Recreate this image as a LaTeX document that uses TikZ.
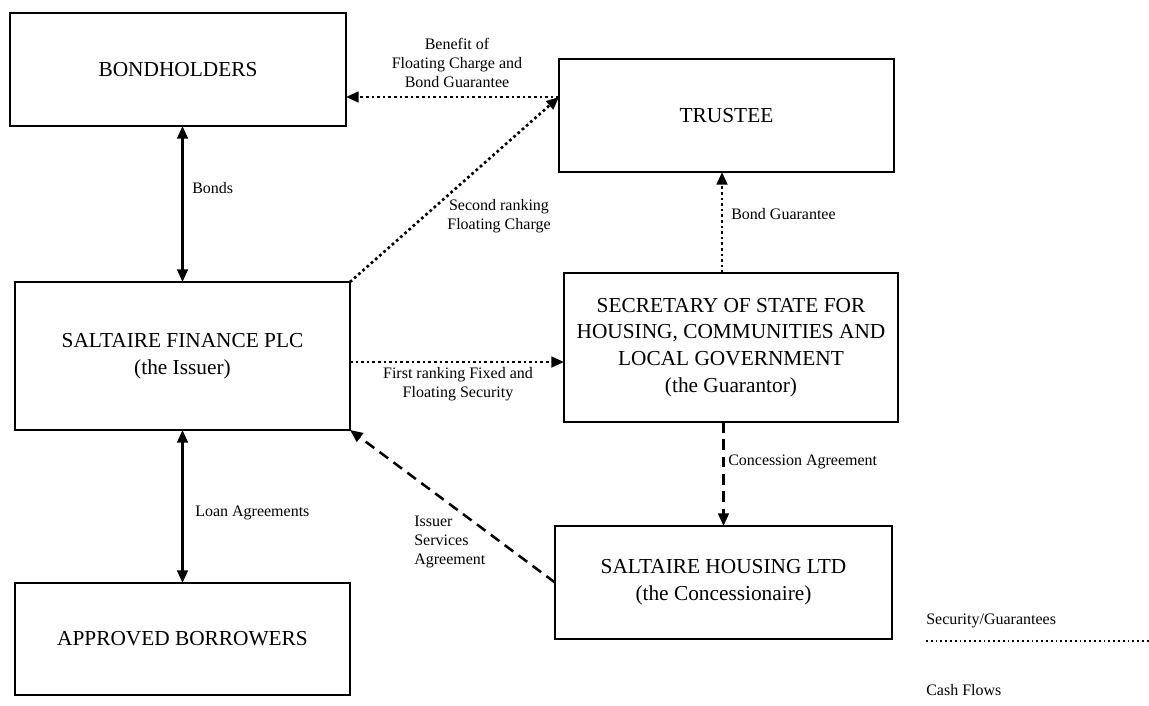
\documentclass[tikz,border=0pt]{standalone}
\usepackage{fontspec}
\setmainfont{Liberation Serif}
\usetikzlibrary{arrows.meta,calc}
\begin{document}
\begin{tikzpicture}[x=0.75pt,y=-0.75pt,
  box/.style={draw, line width=2.1pt, inner sep=0pt, outer sep=0pt, align=center,
    font=\fontsize{16}{20}\selectfont},
  lbl/.style={inner sep=0pt, font=\fontsize{12}{14}\selectfont},
  headend/.style={-{Triangle[length=9.5pt,width=8pt]}},
  headboth/.style={{Triangle[length=9.5pt,width=8pt]}-{Triangle[length=9.5pt,width=8pt]}},
  solidline/.style={line width=1.8pt},
  dotline/.style={line width=2pt, dash pattern=on 2pt off 2.2pt},
  dashline/.style={line width=1.9pt, dash pattern=on 8pt off 5pt},
  legdot/.style={line width=1.4pt, dash pattern=on 1.4pt off 2.2pt}]
\useasboundingbox (0,0) rectangle (1149,706);

% boxes
\node[box, minimum width=252pt, minimum height=84.75pt] (bond) at (178,69.5) {BONDHOLDERS};
\node[box, minimum width=251.25pt, minimum height=84.75pt] (trustee) at (726.5,115.5) {TRUSTEE};
\node[box, minimum width=251.25pt, minimum height=111pt] (fin) at (182.5,356) {SALTAIRE FINANCE PLC\\(the Issuer)};
\node[box, minimum width=250.5pt, minimum height=111.75pt] (sec) at (731,347.5) {SECRETARY OF STATE FOR\\HOUSING, COMMUNITIES AND\\LOCAL GOVERNMENT\\(the Guarantor)};
\node[box, minimum width=252.75pt, minimum height=84.75pt] (hous) at (723.5,582.5) {SALTAIRE HOUSING LTD\\(the Concessionaire)};
\node[box, minimum width=251.25pt, minimum height=84pt] (appr) at (182.5,639) {APPROVED BORROWERS};

% helper coordinates
\coordinate (tw) at ($(trustee.west)+(0,-18.5)$);
\coordinate (fe) at ($(fin.east)+(0,6)$);
\coordinate (bg) at ($(sec.north)+(-9,0)$);

% connectors
\draw[solidline, headboth] (bond.south -| fin.north) -- (fin.north);
\draw[solidline, headboth] (fin.south) -- (appr.north);
\draw[dotline, headend] (tw) -- (tw -| bond.east);
\draw[dotline, headend] (fin.north east) -- (tw);
\draw[dotline, headend] (fe) -- (fe -| sec.west);
\draw[dotline, headend] (bg) -- (bg |- trustee.south);
\draw[dashline, headend] (sec.south -| hous.north) -- (hous.north);
\draw[dashline, headend] (hous.west) -- (fin.south east);

% labels
\node[lbl, anchor=west] (lbonds) at (192,188) {Bonds};
\node[lbl, anchor=west] (lloan) at (195,513) {Loan Agreements};
\node[lbl, anchor=west] (lbg) at (731,214) {Bond Guarantee};
\node[lbl, anchor=west] (lconc) at (728,462) {Concession Agreement};
\node[lbl, align=center] (lben) at (457,63) {Benefit of\\Floating Charge and\\Bond Guarantee};
\node[lbl, align=center] (lsec) at (499,216) {Second ranking\\Floating Charge};
\node[lbl, align=center] (lfirst) at (458,384) {First ranking Fixed and\\Floating Security};
\node[lbl, align=left, anchor=west] (liss) at (414,542) {Issuer\\Services\\Agreement};

% legend
\node[lbl, anchor=west] (lsg) at (926,621) {Security/Guarantees};
\coordinate (lga) at (926,641);
\coordinate (lgb) at (1149,641);
\draw[legdot] (lga) -- (lgb);
\node[lbl, anchor=west] (lcf) at (926,690) {Cash Flows};
\end{tikzpicture}
\end{document}
